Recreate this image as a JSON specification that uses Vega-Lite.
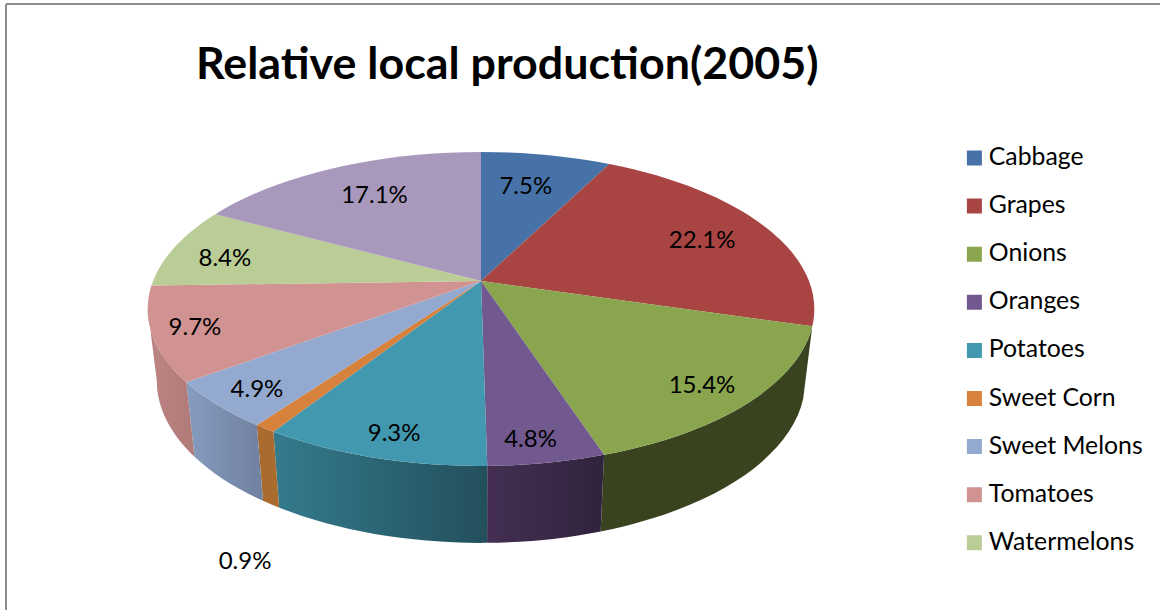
{
  "$schema": "https://vega.github.io/schema/vega-lite/v6.json",
  "width": 1154,
  "height": 606,
  "autosize": "none",
  "padding": {"left": 6, "top": 4, "right": 0, "bottom": 0},
  "background": "white",
  "view": {"stroke": null},
  "title": {
    "text": "Relative local production(2005)",
    "font": "Lato",
    "fontSize": 44.8,
    "fontWeight": "bold",
    "color": "#000000",
    "anchor": "start",
    "frame": "group",
    "dx": 190,
    "offset": -86
  },
  "data": {
    "values": [
      {"crop": "Cabbage", "share": 7.5},
      {"crop": "Grapes", "share": 22.1},
      {"crop": "Onions", "share": 15.4},
      {"crop": "Oranges", "share": 4.8},
      {"crop": "Potatoes", "share": 9.3},
      {"crop": "Sweet Corn", "share": 0.9},
      {"crop": "Sweet Melons", "share": 4.9},
      {"crop": "Tomatoes", "share": 9.7},
      {"crop": "Watermelons", "share": 8.4},
      {"crop": "Wheat", "share": 17.1}
    ]
  },
  "transform": [
    {"joinaggregate": [{"op": "sum", "field": "share", "as": "total"}]},
    {"window": [{"op": "sum", "field": "share", "as": "cum"}], "sort": [{"field": "crop", "order": "ascending"}]},
    {"calculate": "2*PI*(datum.cum-datum.share)/datum.total", "as": "t1"},
    {"calculate": "2*PI*datum.cum/datum.total", "as": "t2"},
    {"calculate": "max(datum.t1,1.749)", "as": "w1"},
    {"calculate": "min(datum.t2,4.534)", "as": "w2"},
    {"calculate": "round(32800*sin(datum.t1)/(1+0.178*cos(datum.t1)))/100", "as": "x1"},
    {"calculate": "round(-15200*cos(datum.t1)/(1+0.178*cos(datum.t1)))/100", "as": "y1"},
    {"calculate": "round(32800*sin(datum.t2)/(1+0.178*cos(datum.t2)))/100", "as": "x2"},
    {"calculate": "round(-15200*cos(datum.t2)/(1+0.178*cos(datum.t2)))/100", "as": "y2"},
    {"calculate": "round(32800*sin(datum.w1)/(1+0.178*cos(datum.w1)))/100", "as": "wx1"},
    {"calculate": "round(-15200*cos(datum.w1)/(1+0.178*cos(datum.w1)))/100", "as": "wy1"},
    {"calculate": "round(32800*sin(datum.w2)/(1+0.178*cos(datum.w2)))/100", "as": "wx2"},
    {"calculate": "round(-15200*cos(datum.w2)/(1+0.178*cos(datum.w2)))/100", "as": "wy2"},
    {"calculate": "round(31900*sin(datum.w1)/(1+0.178*cos(datum.w1)))/100", "as": "bx1"},
    {"calculate": "round(7100-15690*cos(datum.w1)/(1+0.178*cos(datum.w1)))/100", "as": "by1"},
    {"calculate": "round(31900*sin(datum.w2)/(1+0.178*cos(datum.w2)))/100", "as": "bx2"},
    {"calculate": "round(7100-15690*cos(datum.w2)/(1+0.178*cos(datum.w2)))/100", "as": "by2"},
    {"calculate": "'M0,0L'+datum.x1+','+datum.y1+'A333,157,0,0,1,'+datum.x2+','+datum.y2+'Z'", "as": "wedge"},
    {"calculate": "'M'+datum.wx1+','+datum.wy1+'A333,157,0,0,1,'+datum.wx2+','+datum.wy2+'L'+datum.bx2+','+datum.by2+'A324,162,0,0,0,'+datum.bx1+','+datum.by1+'Z'", "as": "wall"},
    {"calculate": "(datum.t1+datum.t2)/2", "as": "mid"},
    {"calculate": "{'Cabbage':-9,'Grapes':-7,'Onions':12,'Oranges':-1,'Potatoes':-4,'Sweet Corn':0,'Sweet Melons':-19,'Tomatoes':-26,'Watermelons':-9,'Wheat':13}[datum.crop]", "as": "nudgeX"},
    {"calculate": "{'Cabbage':10,'Grapes':6,'Onions':11,'Oranges':19,'Potatoes':17,'Sweet Corn':0,'Sweet Melons':13,'Tomatoes':5,'Watermelons':5,'Wheat':8}[datum.crop]", "as": "nudgeY"},
    {"calculate": "475+datum.nudgeX+262.4*sin(datum.mid)/(1+0.1424*cos(datum.mid))", "as": "labelX"},
    {"calculate": "277+datum.nudgeY-121.6*cos(datum.mid)/(1+0.1424*cos(datum.mid))", "as": "labelY"},
    {"calculate": "format(datum.share,'.1f')+'%'", "as": "label"}
  ],
  "layer": [
    {
      "mark": {"type": "rule", "color": "#8c8c8c", "strokeWidth": 2},
      "encoding": {"x": {"datum": 0, "type": "quantitative", "scale": {"domain": [0, 1154], "nice": false, "zero": false}, "axis": null}}
    },
    {
      "mark": {"type": "rule", "color": "#8c8c8c", "strokeWidth": 2},
      "encoding": {"y": {"datum": 0, "type": "quantitative", "scale": {"domain": [0, 606], "nice": false, "zero": false, "reverse": true}, "axis": null}}
    },
    {
      "transform": [{"filter": "datum.crop==='Onions'"}],
      "mark": {"type": "point", "filled": true, "opacity": 1, "size": 4, "fill": "#3a431f"},
      "encoding": {
        "x": {"datum": 475, "type": "quantitative", "scale": {"domain": [0, 1154], "nice": false, "zero": false}, "axis": null},
        "y": {"datum": 277, "type": "quantitative", "scale": {"domain": [0, 606], "nice": false, "zero": false, "reverse": true}, "axis": null},
        "shape": {"field": "wall", "type": "nominal", "scale": null}
      }
    },
    {
      "transform": [{"filter": "datum.crop==='Oranges'"}],
      "mark": {"type": "point", "filled": true, "opacity": 1, "size": 4, "fill": {"gradient": "linear", "x1": 0, "x2": 1, "y1": 0, "y2": 0, "stops": [{"offset": 0, "color": "#442f52"}, {"offset": 1, "color": "#30233d"}]}},
      "encoding": {
        "x": {"datum": 475, "type": "quantitative", "scale": {"domain": [0, 1154], "nice": false, "zero": false}, "axis": null},
        "y": {"datum": 277, "type": "quantitative", "scale": {"domain": [0, 606], "nice": false, "zero": false, "reverse": true}, "axis": null},
        "shape": {"field": "wall", "type": "nominal", "scale": null}
      }
    },
    {
      "transform": [{"filter": "datum.crop==='Potatoes'"}],
      "mark": {"type": "point", "filled": true, "opacity": 1, "size": 4, "fill": {"gradient": "linear", "x1": 0, "x2": 1, "y1": 0, "y2": 0, "stops": [{"offset": 0, "color": "#347b8d"}, {"offset": 1, "color": "#234f5c"}]}},
      "encoding": {
        "x": {"datum": 475, "type": "quantitative", "scale": {"domain": [0, 1154], "nice": false, "zero": false}, "axis": null},
        "y": {"datum": 277, "type": "quantitative", "scale": {"domain": [0, 606], "nice": false, "zero": false, "reverse": true}, "axis": null},
        "shape": {"field": "wall", "type": "nominal", "scale": null}
      }
    },
    {
      "transform": [{"filter": "datum.crop==='Sweet Corn'"}],
      "mark": {"type": "point", "filled": true, "opacity": 1, "size": 4, "fill": "#aa6b2f"},
      "encoding": {
        "x": {"datum": 475, "type": "quantitative", "scale": {"domain": [0, 1154], "nice": false, "zero": false}, "axis": null},
        "y": {"datum": 277, "type": "quantitative", "scale": {"domain": [0, 606], "nice": false, "zero": false, "reverse": true}, "axis": null},
        "shape": {"field": "wall", "type": "nominal", "scale": null}
      }
    },
    {
      "transform": [{"filter": "datum.crop==='Sweet Melons'"}],
      "mark": {"type": "point", "filled": true, "opacity": 1, "size": 4, "fill": {"gradient": "linear", "x1": 0, "x2": 1, "y1": 0, "y2": 0, "stops": [{"offset": 0, "color": "#869cc0"}, {"offset": 1, "color": "#71809f"}]}},
      "encoding": {
        "x": {"datum": 475, "type": "quantitative", "scale": {"domain": [0, 1154], "nice": false, "zero": false}, "axis": null},
        "y": {"datum": 277, "type": "quantitative", "scale": {"domain": [0, 606], "nice": false, "zero": false, "reverse": true}, "axis": null},
        "shape": {"field": "wall", "type": "nominal", "scale": null}
      }
    },
    {
      "transform": [{"filter": "datum.crop==='Tomatoes'"}],
      "mark": {"type": "point", "filled": true, "opacity": 1, "size": 4, "fill": {"gradient": "linear", "x1": 0, "x2": 1, "y1": 0, "y2": 0, "stops": [{"offset": 0, "color": "#bd8583"}, {"offset": 1, "color": "#b07a79"}]}},
      "encoding": {
        "x": {"datum": 475, "type": "quantitative", "scale": {"domain": [0, 1154], "nice": false, "zero": false}, "axis": null},
        "y": {"datum": 277, "type": "quantitative", "scale": {"domain": [0, 606], "nice": false, "zero": false, "reverse": true}, "axis": null},
        "shape": {"field": "wall", "type": "nominal", "scale": null}
      }
    },
    {
      "mark": {"type": "point", "filled": true, "opacity": 1, "size": 4},
      "encoding": {
        "x": {"datum": 475, "type": "quantitative", "scale": {"domain": [0, 1154], "nice": false, "zero": false}, "axis": null},
        "y": {"datum": 277, "type": "quantitative", "scale": {"domain": [0, 606], "nice": false, "zero": false, "reverse": true}, "axis": null},
        "shape": {"field": "wedge", "type": "nominal", "scale": null},
        "color": {
          "field": "crop",
          "type": "nominal",
          "scale": {
            "domain": ["Cabbage", "Grapes", "Onions", "Oranges", "Potatoes", "Sweet Corn", "Sweet Melons", "Tomatoes", "Watermelons", "Wheat"],
            "range": ["#4672a8", "#a84442", "#89a54e", "#71588f", "#4198af", "#d6813c", "#93a9cf", "#d09392", "#bacd96", "#a898bc"]
          },
          "legend": {
            "values": ["Cabbage", "Grapes", "Onions", "Oranges", "Potatoes", "Sweet Corn", "Sweet Melons", "Tomatoes", "Watermelons"],
            "title": null,
            "orient": "none",
            "legendX": 956,
            "legendY": 139,
            "symbolType": "square",
            "symbolSize": 225,
            "symbolStrokeWidth": 0,
            "labelFont": "Lato",
            "labelFontSize": 24.8,
            "labelColor": "#000000",
            "labelOffset": 2,
            "rowPadding": 18.1,
            "clipHeight": 30
          }
        }
      }
    },
    {
      "transform": [{"filter": "datum.crop!=='Sweet Corn'"}],
      "mark": {"type": "text", "font": "Lato", "fontSize": 24, "color": "#000000", "baseline": "middle"},
      "encoding": {
        "x": {"field": "labelX", "type": "quantitative", "scale": {"domain": [0, 1154], "nice": false, "zero": false}, "axis": null},
        "y": {"field": "labelY", "type": "quantitative", "scale": {"domain": [0, 606], "nice": false, "zero": false, "reverse": true}, "axis": null},
        "text": {"field": "label", "type": "nominal"}
      }
    },
    {
      "transform": [{"filter": "datum.crop==='Sweet Corn'"}],
      "mark": {"type": "text", "font": "Lato", "fontSize": 24, "color": "#000000", "baseline": "middle"},
      "encoding": {
        "x": {"datum": 239, "type": "quantitative", "scale": {"domain": [0, 1154], "nice": false, "zero": false}, "axis": null},
        "y": {"datum": 558, "type": "quantitative", "scale": {"domain": [0, 606], "nice": false, "zero": false, "reverse": true}, "axis": null},
        "text": {"field": "label", "type": "nominal"}
      }
    }
  ]
}
